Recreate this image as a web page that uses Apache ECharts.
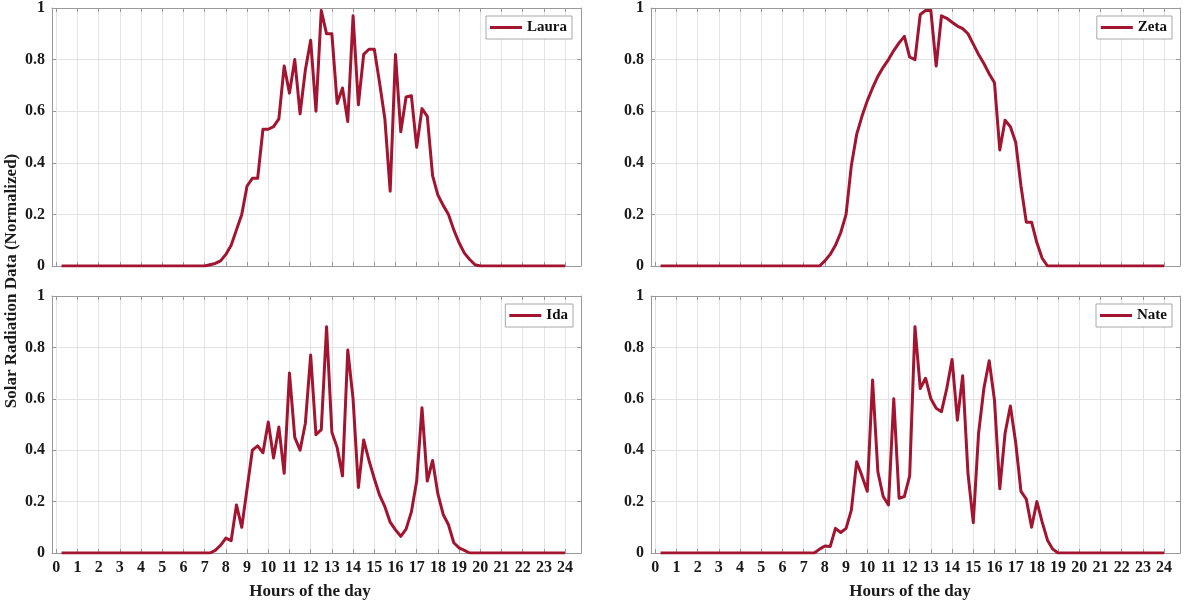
<!DOCTYPE html>
<html><head><meta charset="utf-8">
<script src="https://cdn.jsdelivr.net/npm/echarts@6/dist/echarts.min.js"></script>
<style>html,body{margin:0;padding:0;background:#fff}#c{width:1185px;height:602px}</style>
</head><body><div id="c"></div><script>
// ---- data ----
const hourTicks = [0,1,2,3,4,5,6,7,8,9,10,11,12,13,14,15,16,17,18,19,20,21,22,23,24];
const yTicks = [0,0.2,0.4,0.6,0.8,1];
const stormNames = ['Laura','Zeta','Ida','Nate'];
const xTitle = 'Hours of the day';
const yTitle = 'Solar Radiation Data (Normalized)';
// sample times: every 15 minutes, 0.25 h .. 24 h
const hours = [];
for (let i = 1; i <= 96; i++) hours.push(i * 0.25);
// each row = one hour (4 quarter-hour samples)
const laura = [
 0,0,0,0, 0,0,0,0, 0,0,0,0, 0,0,0,0, 0,0,0,0, 0,0,0,0, 0,0,0,0,
 0.005,0.01,0.02,0.045,
 0.08,0.14,0.2,0.31,
 0.34,0.34,0.53,0.53,
 0.54,0.57,0.775,0.67,
 0.80,0.59,0.76,0.875,
 0.60,0.99,0.90,0.90,
 0.63,0.69,0.56,0.97,
 0.625,0.82,0.84,0.84,
 0.71,0.57,0.29,0.82,
 0.52,0.655,0.66,0.46,
 0.61,0.58,0.35,0.275,
 0.235,0.20,0.14,0.09,
 0.05,0.025,0.005,0,
 0,0,0,0, 0,0,0,0, 0,0,0,0, 0,0,0,0
];
const zeta = [
 0,0,0,0, 0,0,0,0, 0,0,0,0, 0,0,0,0, 0,0,0,0, 0,0,0,0, 0,0,0,0,
 0,0,0,0.02,
 0.045,0.08,0.13,0.2,
 0.39,0.51,0.58,0.64,
 0.69,0.735,0.77,0.80,
 0.835,0.865,0.89,0.81,
 0.80,0.975,0.99,0.99,
 0.775,0.97,0.96,0.945,
 0.93,0.92,0.90,0.86,
 0.82,0.785,0.745,0.71,
 0.45,0.565,0.54,0.48,
 0.31,0.17,0.17,0.09,
 0.03,0,0,0,
 0,0,0,0, 0,0,0,0, 0,0,0,0, 0,0,0,0, 0,0,0,0
];
const ida = [
 0,0,0,0, 0,0,0,0, 0,0,0,0, 0,0,0,0, 0,0,0,0, 0,0,0,0, 0,0,0,0,
 0,0.01,0.03,0.058,
 0.048,0.187,0.10,0.25,
 0.40,0.417,0.39,0.51,
 0.37,0.49,0.31,0.70,
 0.45,0.40,0.505,0.77,
 0.46,0.48,0.88,0.47,
 0.41,0.30,0.79,0.60,
 0.255,0.44,0.36,0.29,
 0.225,0.18,0.12,0.09,
 0.065,0.093,0.16,0.28,
 0.565,0.28,0.36,0.23,
 0.15,0.11,0.04,0.02,
 0.01,0,0,0,
 0,0,0,0, 0,0,0,0, 0,0,0,0, 0,0,0,0
];
const nate = [
 0,0,0,0, 0,0,0,0, 0,0,0,0, 0,0,0,0, 0,0,0,0, 0,0,0,0, 0,0,0,0,
 0,0,0.015,0.027,
 0.025,0.096,0.08,0.096,
 0.167,0.355,0.30,0.24,
 0.673,0.316,0.22,0.187,
 0.60,0.213,0.22,0.30,
 0.88,0.64,0.68,0.60,
 0.563,0.55,0.64,0.753,
 0.517,0.69,0.31,0.118,
 0.466,0.64,0.748,0.595,
 0.25,0.466,0.572,0.43,
 0.24,0.21,0.10,0.20,
 0.12,0.05,0.015,0,
 0,0,0,0, 0,0,0,0, 0,0,0,0, 0,0,0,0, 0,0,0,0
];
const stormValues = [laura, zeta, ida, nate];

// ---- layout / style ----
const FONT = '"Liberation Serif", "Times New Roman", serif';
const LINE = '#A2142F';
const BOX = '#999999';
const GRIDC = '#e3e3e3';
const grids = [
  {left: 52, top: 8, width: 529, height: 258},
  {left: 651, top: 8, width: 529, height: 258},
  {left: 52, top: 296, width: 529, height: 257},
  {left: 651, top: 296, width: 529, height: 257}
];
const legendPos = [
  {right: 613, top: 16},
  {right: 13, top: 16},
  {right: 612, top: 304},
  {right: 13, top: 304}
];
const X_MIN = -0.2, X_MAX = 24.75;

const xAxes = [], yAxes = [], series = [], legends = [];
grids.forEach((g, i) => {
  const bottomRow = i >= 2;
  xAxes.push({
    type: 'value', gridIndex: i, position: 'bottom', min: X_MIN, max: X_MAX,
    axisLine: {show: true, onZero: false, lineStyle: {color: BOX, width: 1}},
    axisTick: {show: true, inside: true, length: 4, customValues: hourTicks, lineStyle: {color: BOX}},
    axisLabel: {show: bottomRow, customValues: hourTicks, margin: 7,
      fontFamily: FONT, fontWeight: 'bold', fontSize: 16, color: '#1a1a1a'},
    splitLine: {show: true, lineStyle: {color: GRIDC, width: 1}}
  });
  xAxes.push({
    type: 'value', gridIndex: i, position: 'top', min: X_MIN, max: X_MAX,
    axisLine: {show: true, onZero: false, lineStyle: {color: BOX, width: 1}},
    axisTick: {show: true, inside: true, length: 4, customValues: hourTicks, lineStyle: {color: BOX}},
    axisLabel: {show: false}, splitLine: {show: false}
  });
  yAxes.push({
    type: 'value', gridIndex: i, position: 'left', min: 0, max: 1, interval: 0.2,
    axisLine: {show: true, onZero: false, lineStyle: {color: BOX, width: 1}},
    axisTick: {show: true, inside: true, length: 4, lineStyle: {color: BOX}},
    axisLabel: {show: true, margin: 7, fontFamily: FONT, fontWeight: 'bold', fontSize: 16, color: '#1a1a1a',
      formatter: v => String(Math.round(v * 10) / 10)},
    splitLine: {show: true, lineStyle: {color: GRIDC, width: 1}}
  });
  yAxes.push({
    type: 'value', gridIndex: i, position: 'right', min: 0, max: 1, interval: 0.2,
    axisLine: {show: true, onZero: false, lineStyle: {color: BOX, width: 1}},
    axisTick: {show: true, inside: true, length: 4, lineStyle: {color: BOX}},
    axisLabel: {show: false}, splitLine: {show: false}
  });
  series.push({
    name: stormNames[i], type: 'line', xAxisIndex: 2 * i, yAxisIndex: 2 * i,
    data: hours.map((h, k) => [h, stormValues[i][k]]),
    showSymbol: false, symbol: 'none', silent: true, animation: false,
    lineStyle: {color: LINE, width: 3, join: 'round'},
    itemStyle: {color: LINE}
  });
  legends.push(Object.assign({
    data: [stormNames[i]], icon: 'rect', itemWidth: 32, itemHeight: 3, itemGap: 4,
    padding: [4, 5, 4, 4], borderColor: '#a8a8a8', borderWidth: 1, borderRadius: 0,
    backgroundColor: '#fff', selectedMode: false,
    textStyle: {fontFamily: FONT, fontWeight: 'bold', fontSize: 15, color: '#111', padding: [0, 0, 0, 0]}
  }, legendPos[i]));
});

const chart = echarts.init(document.getElementById('c'), null, {renderer: 'canvas'});
chart.setOption({
  animation: false,
  backgroundColor: '#fff',
  grid: grids,
  xAxis: xAxes,
  yAxis: yAxes,
  legend: legends,
  series: series,
  graphic: [
    {type: 'text', x: 12, y: 281, rotation: Math.PI / 2,
      style: {text: yTitle, font: 'bold 17px ' + FONT, fill: '#1a1a1a', align: 'center', verticalAlign: 'middle'}},
    {type: 'text', x: 310, y: 592,
      style: {text: xTitle, font: 'bold 17px ' + FONT, fill: '#1a1a1a', align: 'center', verticalAlign: 'middle'}},
    {type: 'text', x: 910, y: 592,
      style: {text: xTitle, font: 'bold 17px ' + FONT, fill: '#1a1a1a', align: 'center', verticalAlign: 'middle'}}
  ]
});
</script></body></html>
